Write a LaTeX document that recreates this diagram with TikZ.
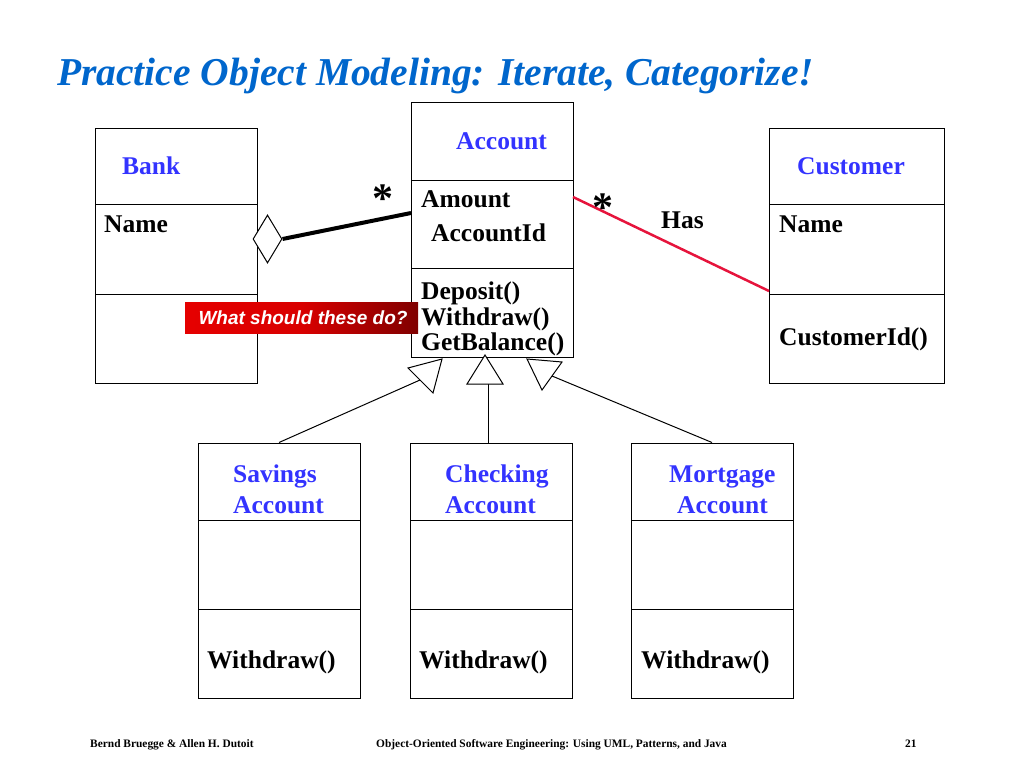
\documentclass[tikz,border=0pt]{standalone}
\usepackage{fontspec}
\setmainfont{Liberation Serif}
\newfontfamily\labelfont{Liberation Sans}
\usetikzlibrary{shapes.geometric}

\definecolor{titleblue}{RGB}{0,102,204}
\definecolor{classblue}{RGB}{51,51,255}
\definecolor{hasred}{RGB}{230,20,60}

\tikzset{
  classbox/.style={draw, line width=1pt, minimum width=162pt, minimum height=255pt, inner sep=0pt},
  cname/.style={anchor=base west, inner sep=0pt, text=classblue, font=\fontsize{25.5}{27}\selectfont\bfseries},
  member/.style={anchor=base west, inner sep=0pt, font=\fontsize{25.5}{27}\selectfont\bfseries},
  mult/.style={inner sep=0pt, font=\fontsize{42}{42}\selectfont\bfseries},
  inherit/.style={line width=1pt},
  hollow/.style={draw, fill=white, line width=1pt, line join=miter},
  foot/.style={anchor=base west, inner sep=0pt, font=\fontsize{11.4}{12}\selectfont\bfseries}
}

\begin{document}
\begin{tikzpicture}[x=1pt,y=-1pt]
    \useasboundingbox (0,0) rectangle (1024,768);

    \node [anchor=base west, inner sep=0pt, text=titleblue,
      font=\fontsize{39.5}{42}\selectfont\bfseries\itshape] (title) at (57,85)
      {Practice Object Modeling: Iterate, Categorize!};

    % classes
    \node [classbox] (bank) at (176.5,255.5) {};
    \node [classbox] (acc) at (492,229.5) {};
    \node [classbox, minimum width=175pt] (cust) at (856.5,255.5) {};
    \node [classbox] (sav) at (279,570.5) {};
    \node [classbox] (chk) at (491,570.5) {};
    \node [classbox] (mort) at (712,570.5) {};

    \draw [line width=1pt] (96,204) -- (257,204) (96,294) -- (257,294);
    \draw [line width=1pt] (411,180) -- (573,180) (411,268) -- (573,268);
    \draw [line width=1pt] (769,204) -- (944,204) (769,294) -- (944,294);
    \foreach \xl/\xr in {198/360, 410/572, 631/793}
      \draw [line width=1pt] (\xl,520) -- (\xr,520) (\xl,609) -- (\xr,609);

    % labels
    \node [cname] (bankname) at (122,174) {Bank};
    \node [member] (bankattr) at (104,232) {Name};

    \node [cname] (accname) at (456,149) {Account};
    \node [member] (amount) at (421,207) {Amount};
    \node [member] (accid) at (431,241) {AccountId};
    \node [member] (deposit) at (421,299) {Deposit()};
    \node [member] (withdraw) at (421,325) {Withdraw()};
    \node [member] (balance) at (421,350) {GetBalance()};

    \node [cname] (custname) at (797,174) {Customer};
    \node [member] (custattr) at (779,232) {Name};
    \node [member] (custop) at (779,345) {CustomerId()};

    \node [cname] (savname) at (233,482) {Savings};
    \node [cname] (savname2) at (233,513) {Account};
    \node [member] (savop) at (207,668) {Withdraw()};
    \node [cname] (chkname) at (445,482) {Checking};
    \node [cname] (chkname2) at (445,513) {Account};
    \node [member] (chkop) at (419,668) {Withdraw()};
    \node [cname] (mortname) at (669,482) {Mortgage};
    \node [cname] (mortname2) at (677,513) {Account};
    \node [member] (mortop) at (641,668) {Withdraw()};

    % aggregation Bank -- Account
    \node [diamond, draw, fill=white, line width=1pt, inner sep=0pt,
      minimum width=29pt, minimum height=48pt] (agg) at (267.5,239) {};
    \coordinate (accleft) at (411,213);
    \draw [line width=4pt] (agg.east) -- (accleft);
    \node [mult] (star1) at (383,199) {*};

    % association Account -- Customer
    \coordinate (accright) at (573,197);
    \coordinate (custleft) at (769,291);
    \draw [hasred, line width=2.5pt] (accright) -- (custleft);
    \node [mult] (star2) at (603,208) {*};
    \node [member] (has) at (661,228) {Has};

    % inheritance
    \coordinate (basesav) at (420,380);
    \coordinate (basechk) at (488,384);
    \coordinate (basemort) at (552,376);
    \draw [inherit] (sav.north) -- (basesav);
    \draw [inherit] (basechk |- chk.north) -- (basechk);
    \draw [inherit] (mort.north) -- (basemort);
    \draw [hollow] (408,368) -- (433,393) -- (442,359) -- cycle;
    \draw [hollow] (467,384) -- (503,384) -- (485,355) -- cycle;
    \draw [hollow] (527,359) -- (562,362) -- (542,390) -- cycle;

    % callout
    \shade [left color=red!90!black, right color=red!50!black, middle color=red!85!black]
      (185,302) rectangle (418,333);
    \node [inner sep=0pt, text=white, font=\labelfont\fontsize{19}{20}\selectfont\bfseries\itshape]
      (note) at (303,317.5) {What should these do?};

    % footer
    \node [foot] (authors) at (90,747) {Bernd Bruegge \& Allen H. Dutoit};
    \node [foot] (book) at (376,747) {Object-Oriented Software Engineering: Using UML, Patterns, and Java};
    \node [foot] (page) at (905,747) {21};
\end{tikzpicture}
\end{document}
